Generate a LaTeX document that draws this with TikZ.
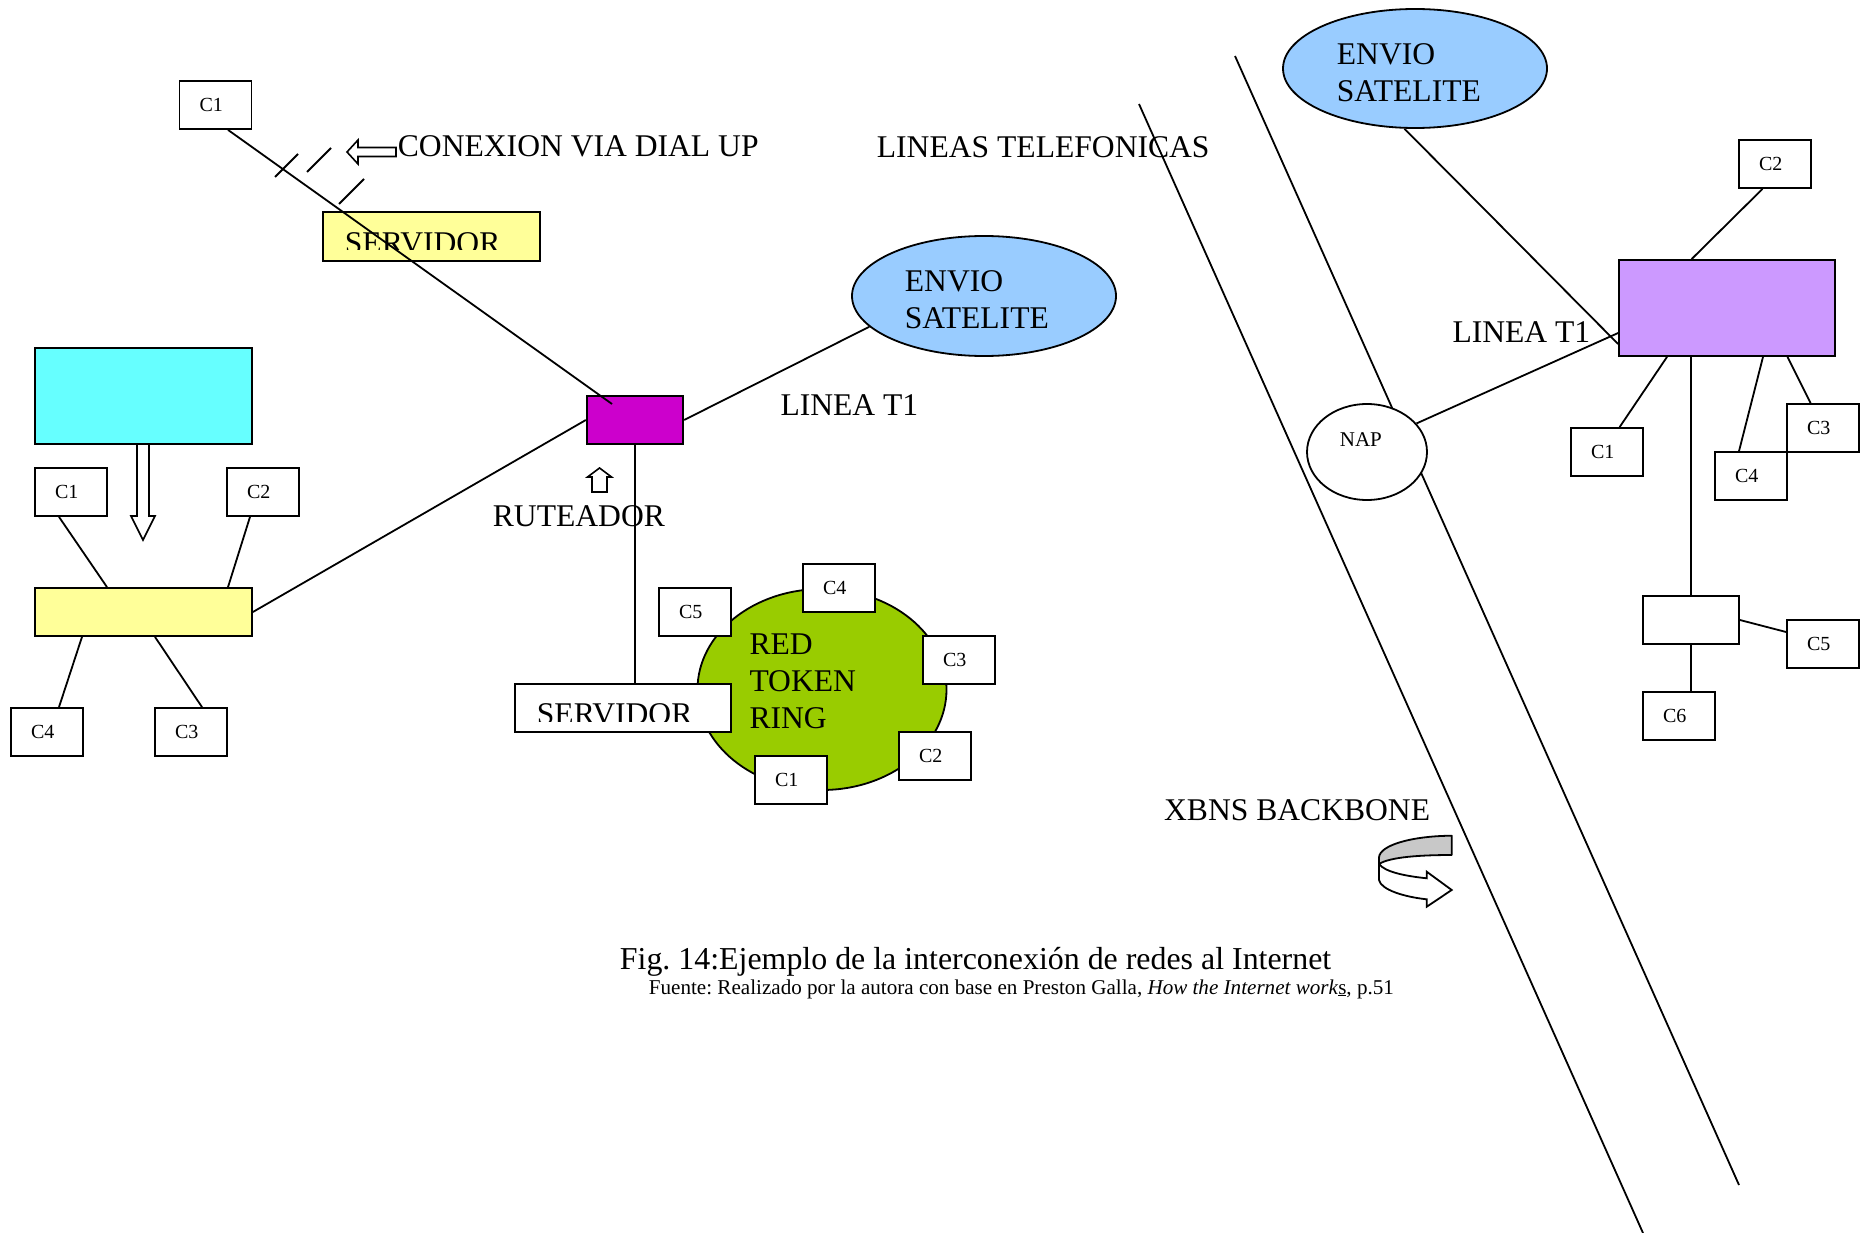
\documentclass[tikz,border=0pt]{standalone}
\usepackage{fontspec}
\setmainfont{Liberation Serif}
\usetikzlibrary{shapes.geometric,calc}
\definecolor{hubyellow}{HTML}{FFFF99}
\definecolor{hubcyan}{HTML}{66FFFF}
\definecolor{routmag}{HTML}{CC00CC}
\definecolor{satblue}{HTML}{99CCFF}
\definecolor{ringgreen}{HTML}{99CC00}
\definecolor{isppurple}{HTML}{CC99FF}
\definecolor{ribbongray}{HTML}{C8C8C8}
\frenchspacing
\begin{document}
\begin{tikzpicture}[x=1pt,y=-1pt,line width=1.8pt,
  lbl/.style={inner sep=0pt,font=\fontsize{31.6}{37}\selectfont},
  cbox/.style={draw,fill=white,minimum width=72pt,minimum height=48pt,text width=32pt,inner xsep=20pt,inner ysep=0pt,align=left,font=\fontsize{20}{24}\selectfont},
  rbox/.style={draw,inner sep=0pt},
  ell/.style={ellipse,draw,inner sep=0pt},
  harrow/.style={draw,fill=white,line width=1.6pt,line join=miter}]
\useasboundingbox (0,0) rectangle (1865,1233);

% ---------- road (lineas telefonicas) ----------
\coordinate (roadAtop) at (1139,104);
\coordinate (roadAbot) at (1643,1233);
\coordinate (roadBtop) at (1235,56);
\coordinate (roadBbot) at (1739,1185);
\draw (roadAtop) -- (roadAbot);
\draw (roadBtop) -- (roadBbot);
\node[lbl,anchor=base west] (lineas) at (876,157.5) {LINEAS TELEFONICAS};

% ---------- dial up ----------
\node[cbox] (c1top) at (215.5,105) {C1};
\node[rbox,fill=hubyellow,minimum width=217pt,minimum height=49pt] (serv1) at (431.5,236.5) {};
\begin{scope}
  \clip (323,212) rectangle (540,250);
  \node[lbl,anchor=base west] (serv1txt) at (344,253.5) {SERVIDOR};
\end{scope}
\node[rbox,fill=routmag,minimum width=96.5pt,minimum height=48pt] (router) at (635,420) {};
\draw ($(c1top.south)+(12.5,0)$) -- ($(router.center)+(-23,-16)$);
\draw (275,177) -- (298,154);
\draw (307,172) -- (331,148);
\draw (339,204) -- (364,179);
\draw[harrow] (347,152) -- (358,140) -- (358,147.5) -- (396,147.5) -- (396,156.5) -- (358,156.5) -- (358,164) -- cycle;
\node[lbl,anchor=base west] (conex) at (397,157) {CONEXION VIA DIAL UP};

% ---------- satellite left ----------
\node[ell,fill=satblue,minimum width=264pt,minimum height=120pt] (satL) at (984,296) {};
\node[lbl,align=left,anchor=west] (satLtxt) at (904,299.25) {ENVIO\\SATELITE};
\draw (router.east) -- (satL.195);
\node[lbl,anchor=base west] (t1left) at (779.6,415) {LINEA T1};

% ---------- left LAN ----------
\node[rbox,fill=hubcyan,minimum width=217pt,minimum height=96pt] (cyan) at (143.5,396) {};
\draw[harrow] (137,444) -- (149,444) -- (149,516) -- (155,516) -- (143,540) -- (131,516) -- (137,516) -- cycle;
\node[rbox,fill=hubyellow,minimum width=217pt,minimum height=48pt] (hub) at (143.5,612) {};
\node[cbox] (c1L) at (71,492) {C1};
\node[cbox] (c2L) at (263,492) {C2};
\node[cbox] (c4L) at (47,732) {C4};
\node[cbox] (c3L) at (191,732) {C3};
\draw ($(c1L.south)+(-12,0)$) -- ($(hub.north)+(-36.5,0)$);
\draw ($(c2L.south)+(-13,0)$) -- ($(hub.north)+(84.5,0)$);
\draw ($(hub.south)+(-61.5,0)$) -- ($(c4L.north)+(12,0)$);
\draw ($(hub.south)+(11.5,0)$) -- ($(c3L.north)+(11,0)$);
\draw (hub.east) -- (router.west);

% ---------- router label ----------
\draw[harrow] (599.5,468) -- (611.5,477) -- (607,477) -- (607,492) -- (592,492) -- (592,477) -- (587.5,477) -- cycle;
\node[lbl,anchor=base west] (rut) at (492,526) {RUTEADOR};

% ---------- token ring ----------
\node[ell,fill=ringgreen,minimum width=249pt,minimum height=201pt] (ring) at (822,689.5) {};
\node[lbl,align=left,anchor=west] (ringtxt) at (748.6,681.25) {RED\\TOKEN\\RING};
\node[rbox,fill=white,minimum width=216pt,minimum height=48pt] (serv2) at (623,708) {};
\begin{scope}
  \clip (515,684) rectangle (731,721.5);
  \node[lbl,anchor=base west] (serv2txt) at (536,724.5) {SERVIDOR};
\end{scope}
\draw (router.south) -- (router.south |- serv2.north);
\node[cbox] (c4R) at (839,588) {C4};
\node[cbox] (c5R) at (695,612) {C5};
\node[cbox] (c3R) at (959,660) {C3};
\node[cbox] (c2R) at (935,756) {C2};
\node[cbox] (c1R) at (791,780) {C1};

% ---------- right side ----------
\node[ell,fill=satblue,minimum width=264pt,minimum height=119pt] (satR) at (1415,68.5) {};
\node[lbl,align=left,anchor=west] (satRtxt) at (1336,72.25) {ENVIO\\SATELITE};
\node[rbox,fill=isppurple,minimum width=216pt,minimum height=96pt] (isp) at (1727,308) {};
\draw (satR.260) -- ($(isp.west)+(0,36)$);
\node[lbl,anchor=base west] (t1right) at (1451.6,342) {LINEA T1};
\node[ell,fill=white,minimum width=120pt,minimum height=96pt] (nap) at (1367,452) {};
\node[inner sep=0pt,anchor=base west,font=\fontsize{21}{25}\selectfont] (naptxt) at (1339,446) {NAP};
\draw (nap.30.6) -- ($(isp.west)+(0,25)$);
\node[cbox] (c2RR) at (1775,164) {C2};
\draw ($(c2RR.south)+(-12.5,0)$) -- ($(isp.north)+(-35.4,0)$);
\node[cbox] (c1RR) at (1607,452) {C1};
\node[cbox] (c3RR) at (1823,428) {C3};
\node[cbox] (c4RR) at (1751,476) {C4};
\draw ($(c1RR.north)+(12.6,0)$) -- ($(isp.south)+(-60,0)$);
\draw ($(c3RR.north)+(-12.4,0)$) -- ($(isp.south)+(60.5,0)$);
\draw ($(c4RR.north)+(-12,0)$) -- ($(isp.south)+(36,0)$);
\node[rbox,fill=white,minimum width=96pt,minimum height=48pt] (sub) at (1691,620) {};
\draw ($(isp.south)+(-36,0)$) -- (sub.north);
\node[cbox] (c5RR) at (1823,644) {C5};
\node[cbox] (c6RR) at (1679,716) {C6};
\draw (sub.east) -- ($(c5RR.west)+(0,-12)$);
\draw (sub.south) -- ($(c6RR.north)+(12,0)$);

% ---------- backbone ----------
\node[lbl,anchor=base east] (xbns) at (1431,820) {XBNS BACKBONE};
\draw[fill=ribbongray,line join=round] (1451.7,835.7) .. controls (1412,836) and (1380,845) .. (1379,857.3)
  -- (1379,864) .. controls (1390,857) and (1420,855) .. (1451.7,855) -- cycle;
\draw[fill=white,line join=miter] (1379,864) -- (1379,880) .. controls (1381,890) and (1405,897) .. (1426.7,899.3)
  -- (1426.7,906.7) -- (1451.7,890) -- (1426.7,871.7) -- (1426.7,878.3)
  .. controls (1405,876) and (1385,872) .. (1379,864) -- cycle;

% ---------- caption ----------
\node[inner sep=0pt,anchor=base west,font=\fontsize{31.9}{38}\selectfont] (cap) at (619,969) {Fig. 14:Ejemplo de la interconexión de redes al Internet};
\node[inner sep=0pt,anchor=base west,font=\fontsize{21.1}{25}\selectfont] (src) at (648,994) {Fuente: Realizado por la autora con base en Preston Galla, \textit{How the Internet work}\underline{s}, p.51};
\end{tikzpicture}
\end{document}
